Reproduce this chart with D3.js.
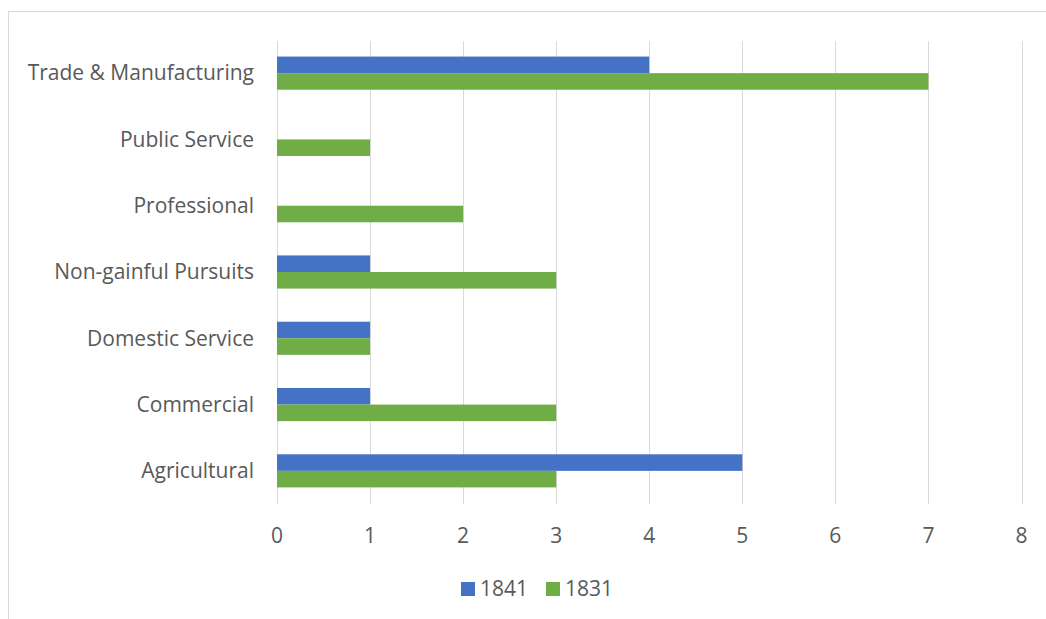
<!DOCTYPE html>
<html><head><meta charset="utf-8">
<script src="https://cdn.jsdelivr.net/npm/d3@7"></script>
<style>body{margin:0;background:#fff}svg{display:block}text{font-family:"Open Sans",Lato,sans-serif;fill:#595959}</style>
</head><body><svg id="c" width="1046" height="619"></svg>
<script>
const categories = ["Trade & Manufacturing","Public Service","Professional","Non-gainful Pursuits","Domestic Service","Commercial","Agricultural"];
const series = ["1841","1831"];
const values1841 = [4,0,0,1,1,1,5];
const values1831 = [7,1,2,3,1,3,3];
const xTicks = [0,1,2,3,4,5,6,7,8];
const colors = {"1841":"#4472C4","1831":"#70AD47"};

const svg = d3.select("#c");
svg.append("rect").attr("x",8.5).attr("y",11.5).attr("width",1100).attr("height",700)
  .attr("fill","#fff").attr("stroke","#d9d9d9").attr("stroke-width",1);

const x = d3.scaleLinear().domain([0,8]).range([277,1021.5]);
const y = d3.scaleBand().domain(categories).range([40,504]).paddingInner(0.5).paddingOuter(0.25);
const ySub = d3.scaleBand().domain(series).range([0,y.bandwidth()]);

// gridlines
svg.append("g").selectAll("line").data(xTicks).join("line")
  .attr("x1",d=>Math.round(x(d))+0.5).attr("x2",d=>Math.round(x(d))+0.5)
  .attr("y1",41).attr("y2",504).attr("stroke","#d9d9d9").attr("stroke-width",1);

const data = [];
categories.forEach((c,i)=>{ data.push({c,s:"1841",v:values1841[i]}); data.push({c,s:"1831",v:values1831[i]}); });
svg.append("g").selectAll("rect").data(data.filter(d=>d.v>0)).join("rect")
  .attr("x",x(0)).attr("width",d=>x(d.v)-x(0))
  .attr("y",d=>y(d.c)+ySub(d.s)).attr("height",ySub.bandwidth())
  .attr("fill",d=>colors[d.s]);

// category labels
svg.append("g").selectAll("text").data(categories).join("text")
  .attr("x",254).attr("y",d=>y(d)+y.bandwidth()/2).attr("dy","0.35em")
  .attr("text-anchor","end").attr("font-size",21).text(d=>d);

// x tick labels
svg.append("g").selectAll("text").data(xTicks).join("text")
  .attr("x",d=>x(d)).attr("y",536).attr("dy","0.35em")
  .attr("text-anchor","middle").attr("font-size",21).text(d=>d);

// legend
const lg = svg.append("g");
const legendItems = [{s:"1841",x:461},{s:"1831",x:546}];
legendItems.forEach(it=>{
  lg.append("rect").attr("x",it.x).attr("y",582).attr("width",14).attr("height",14).attr("fill",colors[it.s]);
  lg.append("text").attr("x",it.x+19).attr("y",589).attr("dy","0.35em").attr("font-size",21).text(it.s);
});
</script></body></html>
